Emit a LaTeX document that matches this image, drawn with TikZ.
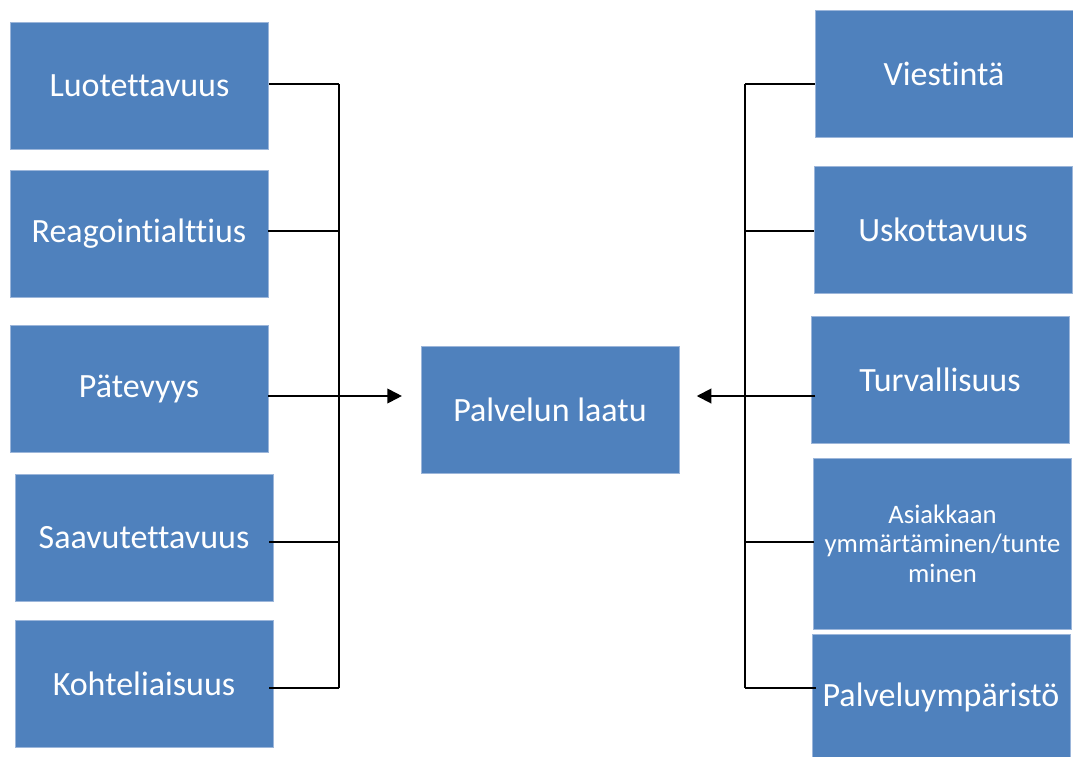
\documentclass[tikz,border=0pt]{standalone}
\usepackage{fontspec}
\setmainfont{Carlito}[Ligatures={NoCommon}]
\usetikzlibrary{arrows.meta}
\definecolor{boxblue}{HTML}{4F81BD}
\definecolor{boxedge}{HTML}{9CB6DA}
\tikzset{
  factor/.style={rectangle, fill=boxblue, draw=boxedge, line width=0.6pt,
    text=white, inner sep=0pt, align=center,
    minimum width=193.5pt, minimum height=95.25pt,
    font=\fontsize{25.5}{30}\selectfont},
  link/.style={draw=black, line width=1.5pt},
  pointer/.style={link, -{Triangle[length=11pt, width=11pt]}}
}
\begin{document}
\begin{tikzpicture}[x=0.75pt, y=-0.75pt]
  \useasboundingbox (0,0) rectangle (1073,756);
  \clip (0,0) rectangle (1073,756);

  % left-hand factors
  \node[factor] (luo) at (139.5,85.5)  {Luotettavuus};
  \node[factor] (rea) at (139,233.5)   {Reagointialttius};
  \node[factor] (pat) at (139,388.5)   {Pätevyys};
  \node[factor] (saa) at (144,537.5)   {Saavutettavuus};
  \node[factor] (koh) at (144,683.5)   {Kohteliaisuus};

  % central outcome
  \node[factor] (pl) at (550,409.5) {Palvelun laatu};

  % right-hand factors
  \node[factor] (vie) at (944,73.5) {Viestintä};
  \node[factor] (usk) at (943,230)  {Uskottavuus};
  \node[factor] (tur) at (940,380)  {Turvallisuus};
  \node[factor, minimum height=128.25pt,
        font=\fontsize{20}{22}\selectfont] (asi) at (942.5,543.5)
        {Asiakkaan\\ymmärtäminen/tunte\\minen};
  \node[factor] (pal) at (941,697.5) {Palveluympäristö};

  % bus points on the left
  \coordinate (l1) at (339,84);
  \coordinate (l2) at (339,231);
  \coordinate (l3) at (339,396);
  \coordinate (l4) at (339,542);
  \coordinate (l5) at (339,688);

  % bus points on the right
  \coordinate (r1) at (745,84);
  \coordinate (r2) at (745,231);
  \coordinate (r3) at (745,396);
  \coordinate (r4) at (745,542);
  \coordinate (r5) at (745,688);

  % left connectors
  \draw[link] (l1) -- (l5);
  \draw[link] (luo.east |- l1) -- (l1);
  \draw[link] (rea.east |- l2) -- (l2);
  \draw[link] ([xshift=-3pt]saa.east |- l4) -- (l4);
  \draw[link] ([xshift=-3pt]koh.east |- l5) -- (l5);
  \draw[pointer, shorten >=14pt] (pat.east |- l3) -- (pl.west |- l3);

  % right connectors
  \draw[link] (r1) -- (r5);
  \draw[link] (vie.west |- r1) -- (r1);
  \draw[link] (usk.west |- r2) -- (r2);
  \draw[link] ([xshift=1pt]asi.west |- r4) -- (r4);
  \draw[link] ([xshift=3pt]pal.west |- r5) -- (r5);
  \draw[pointer, shorten >=13pt] ([xshift=3.5pt]tur.west |- r3) -- (pl.east |- r3);
\end{tikzpicture}
\end{document}
